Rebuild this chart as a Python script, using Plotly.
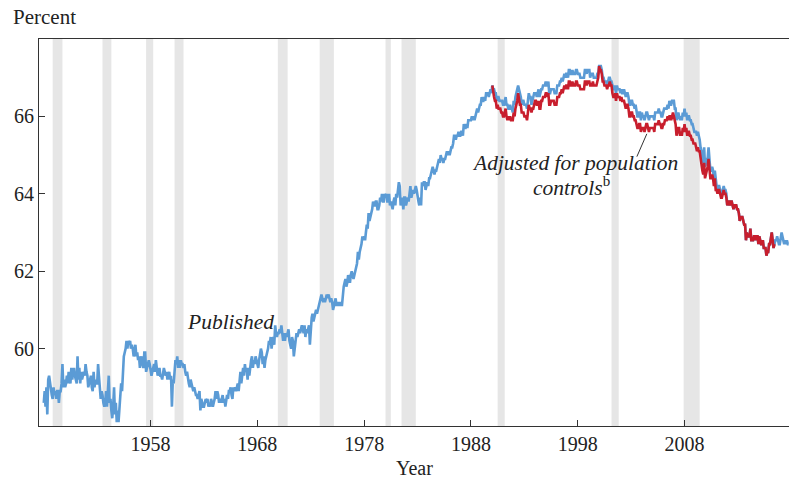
import pandas as pd
import plotly.graph_objects as go

# ---------------- data (monthly, percent) ----------------
published_1948_1957 = [
    58.6, 58.9, 58.5, 59.0, 58.3, 59.2, 59.3, 59.1, 58.9, 58.8, 58.7, 59.0,
    58.8, 58.9, 58.7, 58.9, 58.9, 58.6, 58.9, 58.9, 59.1, 59.6, 59.0, 59.2,
    59.0, 59.1, 59.3, 59.1, 59.4, 59.2, 59.1, 59.5, 59.2, 59.4, 59.5, 59.3,
    59.2, 59.1, 59.8, 59.2, 59.5, 59.1, 59.4, 59.2, 59.3, 59.4, 59.3, 59.6,
    59.4, 59.3, 59.0, 59.1, 59.2, 59.3, 59.0, 58.9, 59.4, 59.0, 59.2, 59.1,
    59.1, 59.6, 59.3, 58.8, 58.7, 58.9, 58.8, 58.6, 58.5, 58.6, 58.9, 58.5,
    58.8, 59.3, 58.6, 58.7, 58.4, 58.2, 58.5, 59.0, 58.3, 58.6, 58.1, 58.4,
    58.1, 58.5, 58.6, 59.1, 58.9, 59.4, 59.8, 59.9, 60.0, 60.2, 60.0, 60.2,
    60.1, 60.2, 60.0, 60.1, 60.0, 59.8, 59.9, 60.1, 59.8, 59.9, 59.7, 59.8,
    59.5, 59.7, 59.8, 59.6, 59.5, 59.9, 59.9, 59.4, 59.5, 59.6, 59.7, 59.6,
]
published_1958_1967 = [
    59.4, 59.3, 59.4, 59.5, 59.6, 59.4, 59.7, 59.5, 59.3, 59.4, 59.5, 59.3,
    59.3, 59.2, 59.4, 59.5, 59.4, 59.3, 59.4, 59.2, 59.3, 59.4, 59.2, 59.3,
    58.5, 59.2, 59.1, 59.6, 59.7, 59.6, 59.8, 59.5, 59.7, 59.5, 59.7, 59.6,
    59.6, 59.5, 59.6, 59.4, 59.3, 59.4, 59.2, 59.1, 59.0, 59.2, 59.1, 59.0,
    58.9, 59.0, 58.9, 58.8, 58.8, 58.7, 58.8, 58.9, 58.4, 58.7, 58.6, 58.5,
    58.5, 58.6, 58.7, 58.6, 58.7, 58.5, 58.6, 58.5, 58.7, 58.6, 58.5, 58.6,
    58.7, 58.9, 58.7, 58.9, 58.8, 58.6, 58.7, 58.6, 58.7, 58.8, 58.6, 58.7,
    58.5, 58.7, 58.8, 58.7, 58.9, 58.9, 59.0, 58.8, 58.7, 59.0, 58.9, 59.0,
    58.9, 59.0, 59.1, 58.9, 59.2, 59.4, 59.1, 59.3, 59.5, 59.3, 59.6, 59.4,
    59.5, 59.2, 59.5, 59.3, 59.6, 59.7, 59.8, 59.5, 59.7, 59.6, 59.8, 59.7,
]
published_1968_1977 = [
    59.6, 59.5, 59.7, 59.9, 60.0, 59.9, 59.6, 59.8, 59.5, 59.7, 59.8, 59.9,
    60.0, 60.2, 60.1, 60.3, 60.0, 60.2, 60.3, 60.1, 60.6, 60.4, 60.3, 60.4,
    60.4, 60.5, 60.4, 60.6, 60.3, 60.2, 60.4, 60.2, 60.4, 60.3, 60.4, 60.5,
    60.2, 60.1, 60.0, 60.3, 60.2, 59.8, 60.1, 60.2, 60.4, 60.3, 60.4, 60.5,
    60.4, 60.5, 60.6, 60.5, 60.4, 60.6, 60.3, 60.5, 60.4, 60.5, 60.6, 60.1,
    60.6, 60.8, 60.9, 60.7, 60.8, 60.9, 61.0, 60.9, 61.0, 61.1, 61.2, 61.3,
    61.4, 61.3, 61.2, 61.3, 61.2, 61.3, 61.4, 61.3, 61.4, 61.3, 61.2, 61.3,
    61.2, 61.0, 61.1, 61.2, 61.3, 61.1, 61.2, 61.1, 61.2, 61.1, 61.2, 61.1,
    61.5, 61.6, 61.7, 61.8, 61.6, 61.7, 61.9, 61.8, 61.7, 61.9, 62.0, 61.9,
    61.8, 61.9, 62.0, 62.1, 62.2, 62.5, 62.3, 62.5, 62.6, 62.7, 62.9, 62.8,
]
published_1978_1987 = [
    62.9, 62.8, 63.0, 63.2, 63.1, 63.5, 63.3, 63.4, 63.5, 63.6, 63.8, 63.7,
    63.7, 63.8, 63.8, 63.6, 63.6, 63.7, 63.9, 63.8, 64.0, 63.8, 63.8, 64.0,
    63.9, 64.0, 63.8, 63.8, 64.0, 63.7, 63.8, 63.7, 63.6, 63.8, 63.9, 63.7,
    64.0, 63.9, 64.1, 64.3, 64.2, 63.7, 63.8, 63.9, 63.6, 63.9, 63.9, 63.7,
    63.8, 63.9, 63.8, 64.0, 64.2, 63.9, 64.0, 64.1, 64.0, 64.1, 64.2, 64.1,
    63.9, 63.8, 63.7, 63.9, 63.7, 64.3, 64.2, 64.3, 64.3, 64.1, 64.2, 64.3,
    64.2, 64.4, 64.4, 64.5, 64.6, 64.7, 64.6, 64.5, 64.6, 64.6, 64.7, 64.8,
    64.9, 64.8, 65.0, 64.9, 64.9, 64.8, 64.9, 64.9, 65.0, 65.1, 65.0, 65.1,
    65.0, 65.1, 65.2, 65.2, 65.3, 65.5, 65.5, 65.4, 65.5, 65.5, 65.6, 65.5,
    65.5, 65.6, 65.6, 65.5, 65.8, 65.7, 65.7, 65.8, 65.7, 65.9, 65.9, 65.9,
]
published_1988_1997 = [
    65.9, 66.0, 65.9, 66.0, 65.9, 66.0, 66.1, 66.2, 66.1, 66.2, 66.3, 66.3,
    66.5, 66.4, 66.4, 66.5, 66.4, 66.6, 66.6, 66.6, 66.5, 66.6, 66.7, 66.6,
    66.8, 66.7, 66.7, 66.6, 66.6, 66.4, 66.5, 66.5, 66.4, 66.4, 66.4, 66.4,
    66.3, 66.3, 66.4, 66.5, 66.3, 66.3, 66.2, 66.2, 66.3, 66.2, 66.2, 66.1,
    66.4, 66.3, 66.5, 66.6, 66.7, 66.8, 66.7, 66.6, 66.5, 66.3, 66.4, 66.4,
    66.3, 66.3, 66.3, 66.2, 66.5, 66.6, 66.5, 66.5, 66.3, 66.4, 66.5, 66.6,
    66.6, 66.6, 66.5, 66.6, 66.7, 66.5, 66.6, 66.7, 66.7, 66.8, 66.8, 66.8,
    66.9, 66.8, 66.8, 66.9, 66.6, 66.6, 66.7, 66.7, 66.7, 66.7, 66.6, 66.6,
    66.6, 66.8, 66.8, 66.8, 66.9, 66.9, 67.0, 66.9, 67.0, 67.1, 67.0, 67.1,
    67.1, 67.0, 67.2, 67.2, 67.1, 67.1, 67.2, 67.1, 67.1, 67.1, 67.2, 67.2,
]
published_1998_2007 = [
    67.1, 67.1, 67.1, 67.0, 67.0, 67.0, 67.0, 67.0, 67.2, 67.2, 67.1, 67.2,
    67.2, 67.2, 67.0, 67.1, 67.1, 67.1, 67.0, 67.0, 67.0, 67.0, 67.1, 67.1,
    67.3, 67.3, 67.3, 67.2, 67.0, 67.0, 66.9, 66.9, 66.9, 66.8, 66.9, 67.0,
    67.0, 66.9, 66.9, 66.8, 66.7, 66.7, 66.8, 66.6, 66.8, 66.7, 66.7, 66.7,
    66.6, 66.7, 66.6, 66.6, 66.7, 66.6, 66.5, 66.6, 66.6, 66.5, 66.3, 66.3,
    66.4, 66.4, 66.3, 66.3, 66.2, 66.3, 66.1, 66.0, 66.0, 66.1, 66.1, 65.9,
    66.1, 66.0, 66.0, 65.9, 66.0, 66.1, 66.1, 66.0, 65.9, 66.0, 66.0, 66.0,
    66.0, 66.0, 65.9, 66.1, 66.1, 66.1, 66.1, 66.2, 66.1, 66.1, 66.0, 66.0,
    66.1, 66.2, 66.2, 66.2, 66.2, 66.3, 66.2, 66.4, 66.3, 66.3, 66.4, 66.4,
    66.4, 66.2, 66.2, 65.9, 66.0, 66.1, 66.0, 65.9, 66.0, 65.9, 66.1, 66.0,
]
published_2008_2017 = [
    66.2, 66.0, 66.1, 65.9, 66.0, 66.0, 65.9, 65.9, 65.8, 65.8, 65.7, 65.6,
    65.6, 65.6, 65.5, 65.6, 65.5, 65.4, 65.2, 65.1, 64.9, 64.8, 65.2, 64.7,
    64.8, 64.9, 64.9, 65.2, 64.9, 64.6, 64.6, 64.7, 64.6, 64.4, 64.6, 64.3,
    64.2, 64.1, 64.2, 64.2, 64.1, 64.0, 64.0, 64.1, 64.2, 64.1, 64.1, 64.0,
    63.7, 63.8, 63.8, 63.7, 63.8, 63.8, 63.7, 63.6, 63.7, 63.7, 63.7, 63.6,
    63.6, 63.5, 63.3, 63.4, 63.4, 63.4, 63.3, 63.2, 63.2, 62.8, 63.0, 62.9,
    62.9, 62.9, 63.1, 62.8, 62.8, 62.8, 62.9, 62.9, 62.8, 62.9, 62.9, 62.7,
    62.9, 62.8, 62.7, 62.7, 62.8, 62.6, 62.6, 62.6, 62.4, 62.5, 62.5, 62.7,
    62.7, 62.9, 63.0, 62.8, 62.6, 62.7, 62.8, 62.8, 62.9, 62.8, 62.7, 62.7,
    62.9, 63.0, 62.9, 62.8, 62.7, 62.8, 62.7, 62.8, 62.7, 62.7,
]
published_start = "1948-01-01"

adjusted_1990_1999 = [
    66.8, 66.6, 66.5, 66.4, 66.4, 66.2, 66.3, 66.2, 66.2, 66.2, 66.1, 66.1,
    66.0, 66.0, 66.1, 66.2, 66.0, 65.9, 66.0, 65.9, 66.0, 65.9, 65.9, 65.9,
    66.1, 66.0, 66.2, 66.3, 66.4, 66.6, 66.4, 66.3, 66.3, 66.1, 66.1, 66.1,
    66.0, 66.0, 66.0, 65.9, 66.2, 66.3, 66.2, 66.2, 66.1, 66.2, 66.2, 66.3,
    66.4, 66.4, 66.3, 66.3, 66.4, 66.2, 66.2, 66.4, 66.4, 66.5, 66.5, 66.5,
    66.6, 66.6, 66.5, 66.6, 66.3, 66.3, 66.4, 66.4, 66.4, 66.4, 66.3, 66.3,
    66.3, 66.5, 66.5, 66.5, 66.6, 66.6, 66.7, 66.6, 66.7, 66.8, 66.7, 66.8,
    66.8, 66.7, 66.9, 66.9, 66.8, 66.8, 66.9, 66.8, 66.8, 66.8, 66.9, 66.9,
    66.8, 66.8, 66.8, 66.7, 66.7, 66.7, 66.7, 66.7, 66.9, 66.9, 66.8, 66.9,
    66.9, 66.9, 66.8, 66.8, 66.8, 66.9, 66.8, 66.8, 66.8, 66.8, 66.9, 67.0,
]
adjusted_2000_2009 = [
    67.3, 67.2, 67.2, 67.1, 66.9, 66.9, 66.8, 66.8, 66.8, 66.7, 66.8, 66.8,
    66.9, 66.8, 66.8, 66.6, 66.5, 66.5, 66.6, 66.4, 66.6, 66.5, 66.5, 66.5,
    66.4, 66.5, 66.4, 66.4, 66.4, 66.3, 66.2, 66.3, 66.3, 66.2, 66.0, 66.0,
    66.1, 66.1, 66.0, 66.0, 65.9, 65.9, 65.8, 65.7, 65.7, 65.8, 65.8, 65.6,
    65.7, 65.7, 65.7, 65.6, 65.7, 65.8, 65.8, 65.7, 65.6, 65.7, 65.7, 65.7,
    65.7, 65.7, 65.6, 65.8, 65.8, 65.8, 65.8, 65.9, 65.8, 65.8, 65.7, 65.7,
    65.8, 65.8, 65.9, 65.9, 65.9, 66.0, 65.9, 66.0, 66.0, 65.9, 66.0, 66.1,
    66.0, 65.9, 65.8, 65.5, 65.6, 65.7, 65.7, 65.5, 65.6, 65.5, 65.7, 65.6,
    65.8, 65.6, 65.7, 65.5, 65.6, 65.6, 65.5, 65.5, 65.4, 65.4, 65.3, 65.3,
    65.3, 65.2, 65.1, 65.2, 65.1, 65.1, 64.9, 64.8, 64.6, 64.5, 64.8, 64.4,
]
adjusted_2010_2016 = [
    64.5, 64.6, 64.7, 64.9, 64.6, 64.4, 64.4, 64.5, 64.4, 64.2, 64.4, 64.1,
    64.1, 64.0, 64.1, 64.1, 64.0, 63.9, 63.9, 64.0, 64.1, 64.0, 64.0, 63.9,
    63.7, 63.8, 63.8, 63.7, 63.8, 63.8, 63.7, 63.6, 63.7, 63.7, 63.7, 63.6,
    63.6, 63.5, 63.3, 63.4, 63.4, 63.4, 63.3, 63.2, 63.2, 62.8, 63.0, 62.9,
    62.9, 62.9, 63.1, 62.8, 62.8, 62.8, 62.9, 62.9, 62.8, 62.9, 62.9, 62.7,
    62.9, 62.8, 62.7, 62.7, 62.8, 62.6, 62.6, 62.6, 62.4, 62.5, 62.5, 62.7,
    62.7, 62.9, 63.0, 62.8, 62.6, 62.7,
]
adjusted_start = "1990-01-01"

recession_starts = ["1948-11-01", "1953-07-01", "1957-08-01", "1960-04-01",
                    "1969-12-01", "1973-11-01", "1980-01-01", "1981-07-01",
                    "1990-07-01", "2001-03-01", "2007-12-01"]
recession_ends = ["1949-10-01", "1954-05-01", "1958-04-01", "1961-02-01",
                  "1970-11-01", "1975-03-01", "1980-07-01", "1982-11-01",
                  "1991-03-01", "2001-11-01", "2009-06-01"]

tick_years = ["1958", "1968", "1978", "1988", "1998", "2008"]
y_ticks = [60, 62, 64, 66]

# ---------------- build ----------------
published = (published_1948_1957 + published_1958_1967 + published_1968_1977 +
             published_1978_1987 + published_1988_1997 + published_1998_2007 +
             published_2008_2017)
adjusted = adjusted_1990_1999 + adjusted_2000_2009 + adjusted_2010_2016

pub_dates = pd.date_range(published_start, periods=len(published), freq="MS")
adj_dates = pd.date_range(adjusted_start, periods=len(adjusted), freq="MS")

BLUE = "#5B9BD5"
RED = "#C81E2D"
FONT = "Liberation Serif"
TXT = "#222222"

fig = go.Figure()
fig.add_trace(go.Scatter(x=pub_dates, y=published, mode="lines",
                         line=dict(color=BLUE, width=2.6), hoverinfo="skip"))
fig.add_trace(go.Scatter(x=adj_dates, y=adjusted, mode="lines",
                         line=dict(color=RED, width=2.6), hoverinfo="skip"))

shapes = []
for s, e in zip(recession_starts, recession_ends):
    shapes.append(dict(type="rect", xref="x", yref="paper", x0=s, x1=e,
                       y0=0, y1=1, fillcolor="#E6E6E6", line=dict(width=0),
                       layer="below"))
# leader line for the adjusted-series label
shapes.append(dict(type="line", xref="x", yref="y", x0="2003-07-15", y0=64.96,
                   x1="2004-06-20", y1=65.55, line=dict(color="#333333", width=1)))

annotations = [
    dict(text="Percent", xref="paper", yref="paper", x=-0.038, y=1.057,
         xanchor="left", yanchor="middle", showarrow=False,
         font=dict(family=FONT, size=21, color=TXT)),
    dict(text="Year", xref="paper", yref="paper", x=0.5, y=-0.108,
         xanchor="center", yanchor="middle", showarrow=False,
         font=dict(family=FONT, size=20, color=TXT)),
    dict(text="<i>Published</i>", xref="x", yref="y", x="1965-07-01", y=60.70,
         xanchor="center", yanchor="middle", showarrow=False,
         font=dict(family=FONT, size=21.5, color=TXT)),
    dict(text="<i>Adjusted for population</i>", xref="x", yref="y",
         x="1997-10-01", y=64.8, xanchor="center", yanchor="middle",
         showarrow=False, font=dict(family=FONT, size=21.5, color=TXT)),
    dict(text="<i>controls</i><sup>b</sup>", xref="x", yref="y",
         x="1997-06-01", y=64.18, xanchor="center", yanchor="middle",
         showarrow=False, font=dict(family=FONT, size=21.5, color=TXT)),
]

fig.update_layout(
    width=789, height=485,
    margin=dict(l=39, r=0, t=39, b=59, autoexpand=False),
    paper_bgcolor="white", plot_bgcolor="white",
    showlegend=False,
    shapes=shapes, annotations=annotations,
    font=dict(family=FONT, size=20, color=TXT),
    xaxis=dict(type="date", range=["1947-07-22", "2017-10-12"], automargin=False,
               tickvals=[f"{y}-01-01" for y in tick_years], ticktext=tick_years,
               ticks="inside", ticklen=6, tickcolor="#333333", tickwidth=1.2,
               showline=True, linecolor="#333333", linewidth=1.2, mirror=True,
               showgrid=False, zeroline=False,
               tickfont=dict(family=FONT, size=20, color=TXT)),
    yaxis=dict(range=[58, 68], tickvals=y_ticks, ticktext=[str(v) for v in y_ticks],
               automargin=False,
               ticks="inside", ticklen=6, tickcolor="#333333", tickwidth=1.2,
               showline=True, linecolor="#333333", linewidth=1.2,
               showgrid=False, zeroline=False,
               tickfont=dict(family=FONT, size=20, color=TXT)),
)

fig.write_html(
    "out.html",
    config={"displayModeBar": False},
    post_script="document.body.style.margin='0px';document.body.style.overflow='hidden';",
)
